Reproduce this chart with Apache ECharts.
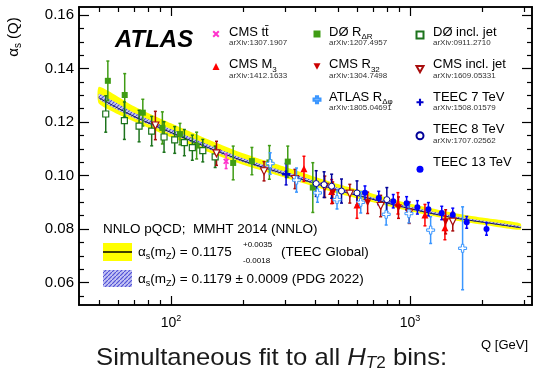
<!DOCTYPE html>
<html>
<head>
<meta charset="utf-8">
<script src="https://cdn.jsdelivr.net/npm/echarts@6/dist/echarts.min.js"></script>
<style>
  html, body { margin: 0; padding: 0; background: #fff; }
  #chart { width: 540px; height: 369px; }
</style>
</head>
<body>
<div id="chart"></div>
<script>
// points: [Q in GeV, alpha_s, error]
const cmsTt    = [[170, 0.1053, 0.0027]]
const cmsM3    = [[360, 0.1025, 0.0047], [470, 0.0940, 0.0045], [600, 0.0890, 0.0050],
                  [890, 0.0896, 0.0040], [1155, 0.0852, 0.0040], [1400, 0.0805, 0.0045]]
const d0Rdr    = [[54.4, 0.1354, 0.0074], [64, 0.1301, 0.0080], [76.2, 0.1235, 0.0050],
                  [92, 0.1178, 0.0060], [109, 0.1155, 0.0040], [128, 0.1112, 0.0050],
                  [182, 0.1047, 0.0063], [218, 0.1054, 0.0051], [258, 0.1049, 0.0063],
                  [308, 0.1052, 0.0058], [392, 0.0955, 0.0093]]
const cmsR32   = [[475, 0.0936, 0.0040], [665, 0.0898, 0.0040], [895, 0.0880, 0.0040], [1410, 0.0827, 0.0045]]
const atlasRdp = [[260, 0.1045, 0.0040], [335, 0.0983, 0.0045], [410, 0.0935, 0.0035],
                  [495, 0.0910, 0.0035], [622, 0.0900, 0.0040], [795, 0.0855, 0.0040],
                  [990, 0.0858, 0.0035], [1220, 0.0796, 0.0050], [1660, 0.0728, 0.0155]]
const d0Jet    = [[53.3, 0.1230, 0.0068], [63.8, 0.1205, 0.0070], [73.5, 0.1185, 0.0059],
                  [83, 0.1166, 0.0055], [93.5, 0.1144, 0.0057], [103.6, 0.1133, 0.0050],
                  [113.7, 0.1123, 0.0049], [122.8, 0.1104, 0.0047], [135.8, 0.1093, 0.0042],
                  [153, 0.1070, 0.0040]]
const cmsJet   = [[86, 0.1187, 0.0053], [155, 0.1083, 0.0045], [245, 0.1016, 0.0036],
                  [330, 0.0987, 0.0036], [440, 0.0958, 0.0040], [560, 0.0932, 0.0035],
                  [754, 0.0886, 0.0040], [993, 0.0861, 0.0040], [1510, 0.0828, 0.0035]]
const teec7    = [[303, 0.1005, 0.0040]]
const teec8    = [[405, 0.0970, 0.0048], [437, 0.0966, 0.0048], [470, 0.0960, 0.0045],
                  [517, 0.0942, 0.0045], [600, 0.0935, 0.0045], [800, 0.0910, 0.0045]]
const teec13   = [[648, 0.0936, 0.0025], [740, 0.0916, 0.0025], [851, 0.0904, 0.0025],
                  [968, 0.0896, 0.0025], [1074, 0.0881, 0.0025], [1194, 0.0874, 0.0025],
                  [1358, 0.0860, 0.0025], [1510, 0.0853, 0.0025], [1727, 0.0825, 0.0022],
                  [2090, 0.0800, 0.0023]]

// running alpha_s bands, read at a few Q values
const bandQ    = [50, 70, 100, 150, 200, 300, 500, 700, 1000, 1500, 2000, 2900]
const teecLow  = [0.1268, 0.1202, 0.1143, 0.1081, 0.1040, 0.0992, 0.0933, 0.0900, 0.0866, 0.0834, 0.0817, 0.0797]
const teecMid  = [0.1290, 0.1221, 0.1161, 0.1097, 0.1055, 0.1005, 0.0945, 0.0911, 0.0876, 0.0843, 0.0826, 0.0805]
const teecHigh = [0.1332, 0.1259, 0.1195, 0.1127, 0.1083, 0.1032, 0.0968, 0.0932, 0.0895, 0.0861, 0.0843, 0.0821]
const pdgLow   = [0.1284, 0.1215, 0.1156, 0.1092, 0.1051, 0.1001, 0.0942, 0.0908, 0.0873, 0.0840, 0.0824, 0.0803]
const pdgHigh  = [0.1306, 0.1235, 0.1174, 0.1108, 0.1065, 0.1015, 0.0954, 0.0918, 0.0883, 0.0850, 0.0832, 0.0811]

const xMajor = [100, 1000]
const xMinor = [50, 60, 70, 80, 90, 200, 300, 400, 500, 600, 700, 800, 900, 2000, 3000]
const yMajor = [0.06, 0.08, 0.10, 0.12, 0.14, 0.16]
const yMinor = [0.055, 0.065, 0.07, 0.075, 0.085, 0.09, 0.095, 0.105, 0.11, 0.115,
                0.125, 0.13, 0.135, 0.145, 0.15, 0.155]
const xMin = 41.2, xMax = 3240, yMin = 0.0516, yMax = 0.163

const FONT = '"Liberation Sans", Arial, sans-serif'

const hatch = document.createElement('canvas')
hatch.width = hatch.height = 4
const hc = hatch.getContext('2d')
hc.fillStyle = '#c4c4f4'
hc.fillRect(0, 0, 4, 4)
hc.strokeStyle = '#5252d6'
hc.lineWidth = 1.2
hc.beginPath(); hc.moveTo(-1, 5); hc.lineTo(5, -1); hc.stroke()
const hatchFill = { image: hatch, repeat: 'repeat' }

const chart = echarts.init(document.getElementById('chart'), null, { renderer: 'canvas' })

function band(name, low, high, fill, z) {
  return {
    type: 'custom', name, z, silent: true,
    data: [[100, 0.1]],
    renderItem(params, api) {
      const pts = bandQ.map((q, i) => api.coord([q, high[i]]))
      for (let i = bandQ.length - 1; i >= 0; i--) pts.push(api.coord([bandQ[i], low[i]]))
      return { type: 'polygon', shape: { points: pts, smooth: 0.2 }, style: { fill } }
    },
  }
}

function errors(data, color) {
  return {
    type: 'custom', silent: true, z: 4,
    data, encode: { x: 0, y: 1 },
    renderItem(params, api) {
      const q = api.value(0), a = api.value(1), e = api.value(2)
      const t = api.coord([q, a + e]), b = api.coord([q, a - e])
      const st = { stroke: color, lineWidth: 1.5 }
      return { type: 'group', children: [
        { type: 'line', shape: { x1: t[0], y1: t[1], x2: b[0], y2: b[1] }, style: st },
        { type: 'line', shape: { x1: t[0] - 1.5, y1: t[1], x2: t[0] + 1.5, y2: t[1] }, style: st },
        { type: 'line', shape: { x1: b[0] - 1.5, y1: b[1], x2: b[0] + 1.5, y2: b[1] }, style: st },
      ] }
    },
  }
}

const PLUS = 'path://M3.5,0H6.5V3.5H10V6.5H6.5V10H3.5V6.5H0V3.5H3.5Z'
const XMARK = 'path://M0,2L2,0L5,3L8,0L10,2L7,5L10,8L8,10L5,7L2,10L0,8L3,5Z'
const DOWN = 'path://M0,0L10,0L5,9Z'

function points(name, data, color, symbol, opts = {}) {
  return {
    type: 'scatter', name, z: 5,
    data: data.map(d => [d[0], d[1]]),
    symbol, symbolSize: opts.size || 6,
    itemStyle: opts.open
      ? { color: '#fff', borderColor: color, borderWidth: opts.bw || 1.2, opacity: 1 }
      : { color, opacity: 1 },
  }
}

const sets = [
  ['d0Rdr', d0Rdr, '#3f9c14', 'rect', {}],
  ['d0Jet', d0Jet, '#1c731c', 'rect', { open: true, size: 6 }],
  ['cmsJet', cmsJet, '#a80d0d', DOWN, { open: true, size: 7 }],
  ['cmsTt', cmsTt, '#ff33cc', XMARK, { size: 6 }],
  ['atlasRdp', atlasRdp, '#3a96ff', PLUS, { open: true, size: 8, bw: 1 }],
  ['cmsM3', cmsM3, '#ff0000', 'triangle', { size: 7 }],
  ['cmsR32', cmsR32, '#cc0000', DOWN, { size: 7 }],
  ['teec7', teec7, '#0000cc', PLUS, { size: 8 }],
  ['teec8', teec8, '#000099', 'circle', { open: true, size: 6, bw: 1 }],
  ['teec13', teec13, '#0000ff', 'circle', { size: 6 }],
]

// legend markers come from the legend component; their labels are drawn as text below
function legendCol(names, iconX) {
  return {
    orient: 'vertical', left: iconX - 8.5, top: 25.5, itemGap: 25.5, itemWidth: 7, itemHeight: 7,
    selectedMode: false, data: names, formatter: () => '', textStyle: { fontSize: 1 },
  }
}

const colX = [229, 329, 433]
const rowY = [32, 64.5, 97, 129.5, 162]
const legendLabels = [
  [0, 0, '{m|CMS tt\u0304}', 'arXiv:1307.1907'],
  [0, 1, '{m|CMS M}{s|3}', 'arXiv:1412.1633'],
  [1, 0, '{m|DØ R}{s|ΔR}', 'arXiv:1207.4957'],
  [1, 1, '{m|CMS R}{s|32}', 'arXiv:1304.7498'],
  [1, 2, '{m|ATLAS R}{s|Δφ}', 'arXiv:1805.04691'],
  [2, 0, '{m|DØ incl. jet}', 'arXiv:0911.2710'],
  [2, 1, '{m|CMS incl. jet}', 'arXiv:1609.05331'],
  [2, 2, '{m|TEEC 7 TeV}', 'arXiv:1508.01579'],
  [2, 3, '{m|TEEC 8 TeV}', 'arXiv:1707.02562'],
  [2, 4, '{m|TEEC 13 TeV}', ''],
]

const txt = (x, y, text, extra = {}) => ({
  type: 'text', x, y, z: 10,
  style: Object.assign({ text, fontFamily: FONT, fontSize: 13.5, fill: '#000', verticalAlign: 'middle' }, extra),
})

const richA = {
  s: { fontFamily: FONT, fontSize: 9, verticalAlign: 'bottom', lineHeight: 11 },
  n: { fontFamily: FONT, fontSize: 13.5, lineHeight: 18 },
}
const richL = {
  m: { fontFamily: FONT, fontSize: 13, lineHeight: 18 },
  s: { fontFamily: FONT, fontSize: 8, lineHeight: 9, verticalAlign: 'bottom' },
}

function xAx(position, ticks, len, labels) {
  return {
    type: 'log', logBase: 10, min: xMin, max: xMax, position,
    axisLine: { show: true, onZero: false, lineStyle: { color: '#000', width: 1.6 } },
    axisTick: { show: true, inside: true, length: len, customValues: ticks, lineStyle: { color: '#000', width: 1.2 } },
    axisLabel: labels ? {
      customValues: ticks, margin: 9,
      formatter: v => '{b|10}{s|' + Math.round(Math.log10(v)) + '}',
      rich: {
        b: { fontFamily: FONT, fontSize: 14, color: '#000', lineHeight: 18 },
        s: { fontFamily: FONT, fontSize: 9, color: '#000', lineHeight: 12, verticalAlign: 'top' },
      },
    } : { show: false },
    splitLine: { show: false }, minorTick: { show: false },
  }
}
function yAx(position, ticks, len, labels) {
  return {
    type: 'value', min: yMin, max: yMax, position,
    axisLine: { show: true, onZero: false, lineStyle: { color: '#000', width: 1.6 } },
    axisTick: { show: true, inside: true, length: len, customValues: ticks, lineStyle: { color: '#000', width: 1.2 } },
    axisLabel: labels ? {
      customValues: ticks, margin: 5, fontFamily: FONT, fontSize: 15, color: '#000',
      formatter: v => v.toFixed(2),
    } : { show: false },
    splitLine: { show: false },
  }
}

const series = [
  band('TEEC Global', teecLow, teecHigh, '#ffff00', 1),
  band('PDG 2022', pdgLow, pdgHigh, hatchFill, 2),
  {
    type: 'line', name: 'TEEC centre', z: 3, silent: true, showSymbol: false, smooth: 0.3,
    data: bandQ.map((q, i) => [q, teecMid[i]]),
    lineStyle: { color: '#1b1b45', width: 1 },
  },
]
sets.forEach(([n, d, c]) => series.push(errors(d, c)))
sets.forEach(([n, d, c, sym, o]) => series.push(points(n, d, c, sym, o)))

chart.setOption({
  animation: false,
  backgroundColor: '#fff',
  grid: { left: 79, right: 8, top: 7, bottom: 64 },
  xAxis: [xAx('bottom', xMajor, 9, true), xAx('bottom', xMinor, 5, false),
          xAx('top', xMajor, 9, false), xAx('top', xMinor, 5, false)],
  yAxis: [yAx('left', yMajor, 10, true), yAx('left', yMinor, 5, false),
          yAx('right', yMajor, 10, false), yAx('right', yMinor, 5, false)],
  legend: [
    legendCol(['cmsTt', 'cmsM3'], 216),
    legendCol(['d0Rdr', 'cmsR32', 'atlasRdp'], 316),
    legendCol(['d0Jet', 'cmsJet', 'teec7', 'teec8', 'teec13'], 419),
  ],
  series,
  graphic: [
    txt(115, 40, 'ATLAS', { fontSize: 24, fontWeight: 'bold', fontStyle: 'italic' }),
    {
      type: 'text', x: 14, y: 37, rotation: Math.PI / 2, z: 10,
      style: {
        text: '{n|α}{s|s}{n| (Q)}', align: 'center', verticalAlign: 'middle',
        rich: { n: { fontFamily: FONT, fontSize: 15, lineHeight: 18 }, s: { fontFamily: FONT, fontSize: 10, lineHeight: 12, verticalAlign: 'bottom' } },
      },
    },
    txt(528, 345, 'Q [GeV]', { align: 'right', fontSize: 13 }),
    {
      type: 'text', x: 96, y: 358, z: 10, scaleX: 1.07,
      style: {
        text: '{n|Simultaneous fit to all }{i|H}{t|T}{d|2}{n| bins:}', verticalAlign: 'middle',
        rich: {
          n: { fontFamily: FONT, fontSize: 24, lineHeight: 28, fill: '#1a1a1a' },
          i: { fontFamily: FONT, fontSize: 24, lineHeight: 28, fontStyle: 'italic', fill: '#1a1a1a' },
          t: { fontFamily: FONT, fontSize: 16, lineHeight: 16, fontStyle: 'italic', verticalAlign: 'bottom', fill: '#1a1a1a' },
          d: { fontFamily: FONT, fontSize: 16, lineHeight: 16, verticalAlign: 'bottom', fill: '#1a1a1a' },
        },
      },
    },
    ...legendLabels.map(([c, r, t]) => txt(colX[c], rowY[r], t, { rich: richL })),
    ...legendLabels.filter(l => l[3]).map(([c, r, , a]) => txt(colX[c], rowY[r] + 11, a, { fontSize: 8, fill: '#333' })),
    txt(103, 229, 'NNLO pQCD;  MMHT 2014 (NNLO)'),
    { type: 'rect', z: 10, shape: { x: 103, y: 243, width: 29, height: 18 }, style: { fill: '#ffff00' } },
    { type: 'line', z: 11, shape: { x1: 103, y1: 252, x2: 132, y2: 252 }, style: { stroke: '#000', lineWidth: 1.5 } },
    txt(138, 252, '{n|α}{s|s}{n|(m}{s|Z}{n|) = 0.1175}', { rich: richA }),
    txt(243, 245, '+0.0035', { fontSize: 8 }),
    txt(243, 261, '-0.0018', { fontSize: 8 }),
    txt(281, 252, '(TEEC Global)'),
    { type: 'rect', z: 10, shape: { x: 103, y: 270, width: 29, height: 17 }, style: { fill: hatchFill } },
    txt(138, 279, '{n|α}{s|s}{n|(m}{s|Z}{n|) = 0.1179 ± 0.0009 (PDG 2022)}', { rich: richA }),
  ],
})
</script>
</body>
</html>
